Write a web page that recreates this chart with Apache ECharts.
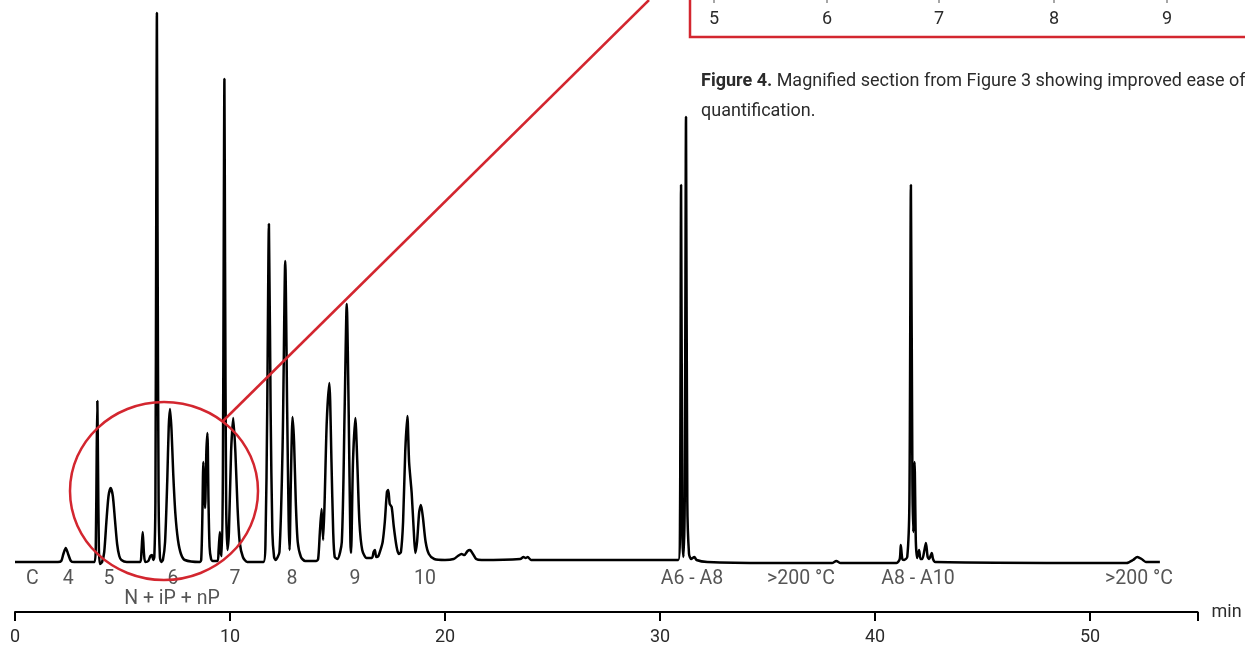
<!DOCTYPE html>
<html>
<head>
<meta charset="utf-8">
<script src="https://cdn.jsdelivr.net/npm/echarts@6/dist/echarts.min.js"></script>
<style>
html,body{margin:0;padding:0;background:#fff;}
#chart{width:1245px;height:647px;}
</style>
</head>
<body>
<div id="chart"></div>
<script>
// Chromatogram trace: [retention time (min), detector signal]
const chromatogram = [
  [0.0,0],[2.0,0],[2.15,1],[2.25,8],[2.36,14],[2.47,8],[2.6,1],[2.75,0],
  [3.7,0],[3.76,20],[3.8,110],[3.83,161],[3.86,100],[3.9,15],[3.95,-2],[4.05,0],
  [4.15,10],[4.25,40],[4.35,66],[4.45,74],[4.55,66],[4.65,42],[4.75,18],[4.85,6],[4.95,2],[5.2,0],
  [5.82,0],[5.88,10],[5.94,30],[6.0,8],[6.06,0],[6.2,1],[6.3,6],[6.37,7],[6.43,2],[6.48,5],
  [6.53,60],[6.57,350],[6.6,549],[6.63,330],[6.68,60],[6.74,5],[6.8,0],
  [6.88,2],[6.98,20],[7.08,80],[7.15,135],[7.21,153],[7.28,132],[7.36,88],[7.46,48],[7.58,22],[7.72,8],[7.9,2],
  [8.6,0],[8.66,2],[8.71,40],[8.76,100],[8.8,70],[8.84,54],[8.9,110],[8.95,129],[9.0,60],[9.05,15],[9.12,3],[9.2,1],
  [9.42,1],[9.47,12],[9.53,30],[9.58,8],[9.62,6],[9.67,90],[9.71,330],[9.74,483],[9.77,300],[9.82,60],[9.88,12],
  [9.95,30],[10.05,110],[10.15,144],[10.25,110],[10.35,55],[10.45,20],[10.6,5],[10.8,0],
  [11.55,0],[11.65,20],[11.73,150],[11.81,338],[11.89,150],[11.97,30],[12.05,5],[12.12,2],
  [12.3,10],[12.45,120],[12.57,301],[12.66,150],[12.73,40],[12.77,12],
  [12.83,80],[12.91,145],[12.98,120],[13.06,60],[13.15,20],[13.3,5],[13.5,1],
  [14.0,1],[14.1,3],[14.18,30],[14.26,53],[14.33,22],[14.4,60],[14.5,140],[14.62,179],[14.72,100],[14.8,30],[14.87,5],
  [15.0,3],[15.2,20],[15.33,150],[15.43,258],[15.52,150],[15.6,20],[15.63,9],
  [15.72,100],[15.83,144],[15.92,100],[16.02,40],[16.15,12],[16.35,4],
  [16.6,4],[16.68,10],[16.74,12],[16.8,5],[16.9,6],[17.0,12],[17.1,20],
  [17.2,40],[17.3,70],[17.36,72],[17.43,58],[17.52,55],[17.62,35],[17.75,15],[17.85,8],
  [17.95,10],[18.05,40],[18.15,110],[18.25,146],[18.33,100],[18.45,69],[18.55,30],[18.62,9],
  [18.7,20],[18.8,50],[18.88,57],[18.97,45],[19.1,20],[19.25,8],[19.5,3],[20.0,2],
  [20.4,3],[20.6,6],[20.77,8],[20.9,7],[21.05,11],[21.16,12],[21.3,8],[21.45,3],[21.7,2],
  [23.5,3],[23.65,5],[23.75,4],[23.85,5],[24.0,2],
  [30.85,2],[30.93,40],[30.98,377],[31.04,30],[31.09,5],[31.15,60],[31.21,445],[31.27,60],[31.35,8],[31.45,3],[31.6,5],[31.7,2],
  [32.2,0],[35.0,-1],[38.0,-1],[38.2,1],[38.4,-1],
  [41.0,-1],[41.15,3],[41.2,17],[41.27,3],[41.35,2],[41.5,5],[41.6,60],[41.67,377],[41.74,80],[41.78,30],[41.84,100],[41.9,20],[41.96,4],
  [42.05,12],[42.12,3],[42.2,3],[42.3,12],[42.37,19],[42.45,5],[42.52,3],[42.6,7],[42.64,9],[42.7,3],[42.8,0],
  [51.7,-1],[52.0,2],[52.2,5],[52.4,3],[52.6,0],[53.25,0]
];

// Carbon-number / group labels under the trace
const peakLabels     = ['C', '4', '5', '6', '7', '8', '9', '10', 'A6 - A8', '>200 °C', 'A8 - A10', '>200 °C'];
const peakLabelTimes = [0.81, 2.47, 4.37, 7.35, 10.23, 12.88, 15.81, 19.07, 31.49, 36.56, 42.0, 52.28];
const groupLabels     = ['N + iP + nP'];
const groupLabelTimes = [7.3];

// Axis ticks
const xTickValues = [0, 10, 20, 30, 40, 50];
const xAxisName = 'min';

// Inset (Figure 4) axis tick labels and caption
const insetTickLabels = ['5', '6', '7', '8', '9'];
const captionBold = 'Figure 4.';
const captionLine1 = ' Magnified section from Figure 3 showing improved ease of';
const captionLine2 = 'quantification.';

const FONT = "Roboto, 'Liberation Sans', sans-serif";
const RED = '#d3262f';
const TXT = '#2b2b2b';

const chart = echarts.init(document.getElementById('chart'));

const labelRow1 = peakLabels.map((n, i) => ({ value: [peakLabelTimes[i], -17], name: n }));
const labelRow2 = groupLabels.map((n, i) => ({ value: [groupLabelTimes[i], -37], name: n }));

const insetX = [714, 827, 939, 1054, 1167];

chart.setOption({
  animation: false,
  backgroundColor: '#fff',
  grid: { left: 15, right: 47.5, top: 12, bottom: 35, containLabel: false },
  xAxis: {
    type: 'value', min: 0, max: 55, interval: 10,
    name: xAxisName, nameLocation: 'end', nameGap: 14,
    nameTextStyle: { fontFamily: FONT, fontSize: 18, color: TXT, verticalAlign: 'middle' },
    axisLine: { onZero: false, lineStyle: { color: '#000', width: 2 } },
    axisTick: { length: 9, lineStyle: { color: '#000', width: 2 } },
    axisLabel: {
      fontFamily: FONT, fontSize: 18, color: TXT, margin: 16,
      formatter: v => (xTickValues.indexOf(v) >= 0 ? String(v) : '')
    },
    splitLine: { show: false }
  },
  yAxis: { type: 'value', min: -50, max: 550, show: false, splitLine: { show: false } },
  series: [
    {
      type: 'line', data: chromatogram, showSymbol: false, smooth: 0.25,
      lineStyle: { color: '#000', width: 2.5 }, z: 3
    },
    {
      type: 'scatter', data: labelRow1.concat(labelRow2), symbolSize: 0, silent: true,
      label: {
        show: true, position: 'inside', formatter: p => p.name,
        fontFamily: FONT, fontSize: 19.5, color: TXT
      }
    }
  ],
  graphic: [
    { type: 'ellipse', z: 10, shape: { cx: 164, cy: 491, rx: 94, ry: 89 },
      style: { fill: null, stroke: RED, lineWidth: 2.5 } },
    { type: 'line', z: 10, shape: { x1: 223, y1: 421, x2: 649, y2: 0 },
      style: { stroke: RED, lineWidth: 2.5 } },
    { type: 'rect', z: 10, shape: { x: 690, y: -10, width: 620, height: 47 },
      style: { fill: null, stroke: RED, lineWidth: 2.5 } }
  ].concat(insetX.map((x, i) => ({
    type: 'text', z: 11, x: x, y: 19,
    style: { text: insetTickLabels[i], fontFamily: FONT, fontSize: 18, fill: TXT,
      align: 'center', verticalAlign: 'middle' }
  }))).concat(insetX.map(x => ({
    type: 'line', z: 11, shape: { x1: x, y1: 0, x2: x, y2: 3 },
    style: { stroke: '#888', lineWidth: 1.5 }
  }))).concat([
    { type: 'text', z: 11, x: 701, y: 81,
      style: { text: '{b|' + captionBold + '}' + captionLine1,
        rich: { b: { fontFamily: FONT, fontSize: 18, fontWeight: 'bold', fill: TXT } },
        fontFamily: FONT, fontSize: 18, fill: TXT, verticalAlign: 'middle' } },
    { type: 'text', z: 11, x: 701, y: 111,
      style: { text: captionLine2, fontFamily: FONT, fontSize: 18, fill: TXT, verticalAlign: 'middle' } }
  ])
});
</script>
</body>
</html>
